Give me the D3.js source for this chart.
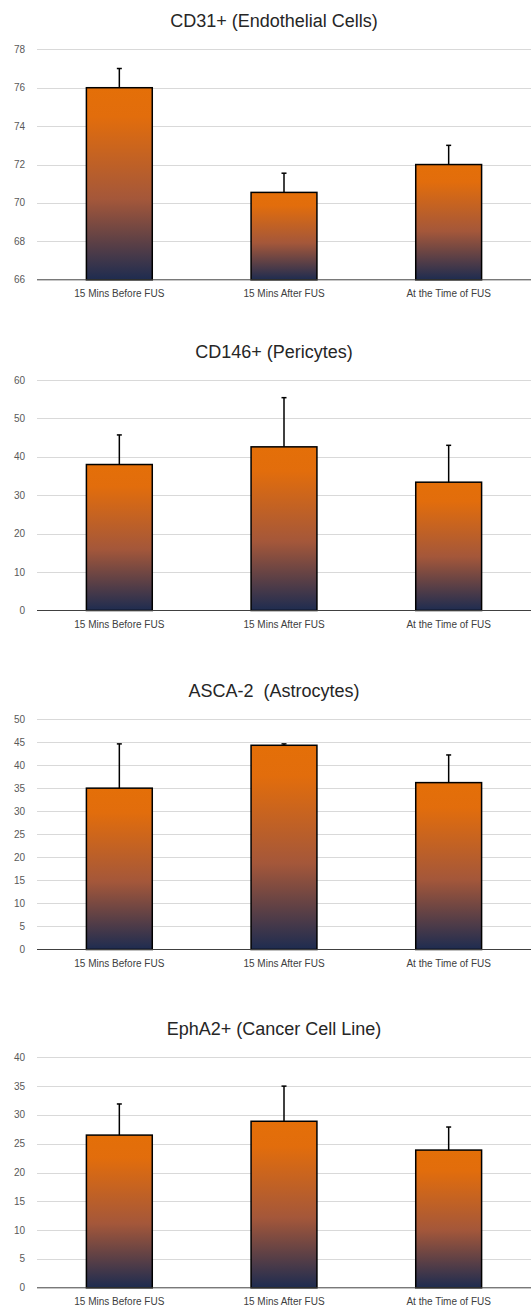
<!DOCTYPE html>
<html><head><meta charset="utf-8">
<script src="https://cdn.jsdelivr.net/npm/d3@7"></script>
<style>body{margin:0;background:#fff}svg{display:block}</style>
</head><body>
<script>
const categories = ["15 Mins Before FUS", "15 Mins After FUS", "At the Time of FUS"];
const titles = ["CD31+ (Endothelial Cells)", "CD146+ (Pericytes)", "ASCA-2  (Astrocytes)", "EphA2+ (Cancer Cell Line)"];
const cd31Values = [76.0, 70.55, 72.0];
const cd31Errors = [1.0, 1.0, 1.0];
const cd146Values = [38.0, 42.6, 33.4];
const cd146Errors = [7.7, 12.8, 9.6];
const asca2Values = [35.0, 44.3, 36.2];
const asca2Errors = [9.6, 0.3, 6.0];
const epha2Values = [26.5, 28.9, 23.9];
const epha2Errors = [5.4, 6.1, 4.0];
const cd31Ticks = [66, 68, 70, 72, 74, 76, 78];
const cd146Ticks = [0, 10, 20, 30, 40, 50, 60];
const asca2Ticks = [0, 5, 10, 15, 20, 25, 30, 35, 40, 45, 50];
const epha2Ticks = [0, 5, 10, 15, 20, 25, 30, 35, 40];

const panels = [
  {title: titles[0], values: cd31Values, errors: cd31Errors, ticks: cd31Ticks},
  {title: titles[1], values: cd146Values, errors: cd146Errors, ticks: cd146Ticks},
  {title: titles[2], values: asca2Values, errors: asca2Errors, ticks: asca2Ticks},
  {title: titles[3], values: epha2Values, errors: epha2Errors, ticks: epha2Ticks}
];

const W = 531, H = 1307;
const plotTops = [49.3, 380, 719, 1057.3];
const plotH = 230.5;
const left = 37, right = 531;

const svg = d3.select("body").append("svg").attr("width", W).attr("height", H);
const defs = svg.append("defs");
const grad = defs.append("linearGradient").attr("id", "barGrad")
  .attr("x1", 0).attr("y1", 0).attr("x2", 0).attr("y2", 1);
grad.append("stop").attr("offset", "0%").attr("stop-color", "#E46F08");
grad.append("stop").attr("offset", "15%").attr("stop-color", "#E26D0C");
grad.append("stop").attr("offset", "58%").attr("stop-color", "#A4573A");
grad.append("stop").attr("offset", "100%").attr("stop-color", "#1E2C50");

const x = d3.scaleBand().domain(categories).range([left, right])
  .paddingInner(0.6).paddingOuter(0.3);

panels.forEach((p, i) => {
  const top = plotTops[i];
  const y = d3.scaleLinear().domain(d3.extent(p.ticks)).range([top + plotH, top]);
  const g = svg.append("g");
  const y0 = y.domain()[0];

  g.append("text").attr("x", 274).attr("y", top - 22)
    .attr("text-anchor", "middle")
    .style("white-space", "pre")
    .attr("xml:space", "preserve")
    .attr("font-family", "Liberation Sans, Arial, sans-serif")
    .attr("font-size", 18).attr("fill", "#262626").text(p.title);

  // gridlines
  g.selectAll(".grid").data(p.ticks.filter(t => t !== y0)).enter().append("line")
    .attr("x1", left).attr("x2", right)
    .attr("y1", d => Math.round(y(d)) + 0.5).attr("y2", d => Math.round(y(d)) + 0.5)
    .attr("stroke", "#d9d9d9").attr("stroke-width", 1);

  // y tick labels
  g.selectAll(".yt").data(p.ticks).enter().append("text")
    .attr("x", 25).attr("y", d => y(d)).attr("dy", "0.35em")
    .attr("text-anchor", "end")
    .attr("font-family", "Liberation Sans, Arial, sans-serif")
    .attr("font-size", 10).attr("fill", "#595959").text(d => d);

  // bars
  g.selectAll(".bar").data(p.values).enter().append("rect")
    .attr("x", (d, j) => x(categories[j]))
    .attr("width", x.bandwidth())
    .attr("y", d => y(d))
    .attr("height", d => y(y0) - y(d))
    .attr("fill", "url(#barGrad)")
    .attr("stroke", "#000").attr("stroke-width", 1.5);

  // error bars
  p.values.forEach((v, j) => {
    const cx = x(categories[j]) + x.bandwidth() / 2;
    g.append("line").attr("x1", cx).attr("x2", cx)
      .attr("y1", y(v)).attr("y2", y(v + p.errors[j]))
      .attr("stroke", "#000").attr("stroke-width", 1.5);
    g.append("line").attr("x1", cx - 2.5).attr("x2", cx + 2.5)
      .attr("y1", y(v + p.errors[j])).attr("y2", y(v + p.errors[j]))
      .attr("stroke", "#000").attr("stroke-width", 1.5);
  });

  // baseline axis
  g.append("line").attr("x1", left).attr("x2", right)
    .attr("y1", y(y0)).attr("y2", y(y0))
    .attr("stroke", "#404040").attr("stroke-width", 1);

  // category labels
  g.selectAll(".cat").data(categories).enter().append("text")
    .attr("x", d => x(d) + x.bandwidth() / 2)
    .attr("y", y(y0) + 17)
    .attr("text-anchor", "middle")
    .attr("font-family", "Liberation Sans, Arial, sans-serif")
    .attr("font-size", 10).attr("fill", "#404040").text(d => d);
});
</script>
</body></html>
